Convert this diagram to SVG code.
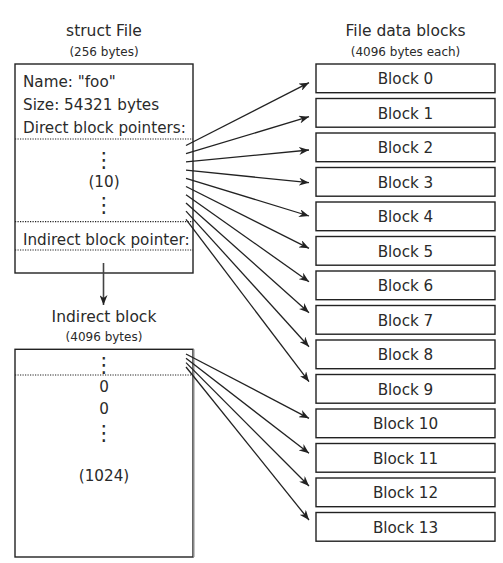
<svg xmlns="http://www.w3.org/2000/svg" width="503" height="563" viewBox="0 0 503 563">
<style>
text{font-family:"DejaVu Sans","Liberation Sans",sans-serif;fill:#2a2a2a;}
.t{font-size:15.2px;}
.h{font-size:15.5px;}
.s{font-size:12px;}
.c{text-anchor:middle;}
.box{fill:#fff;stroke:#222;stroke-width:1.4;}
.dot{stroke:#222;stroke-width:1.2;stroke-dasharray:1.2 1.3;fill:none;}
.ar{stroke:#222;stroke-width:1.3;fill:none;marker-end:url(#ah);}
.vd{font-size:21px;}
</style>
<defs>
<marker id="ah" viewBox="0 0 10 8" refX="10" refY="4" markerWidth="10" markerHeight="8" markerUnits="userSpaceOnUse" orient="auto">
<path d="M0,0 L10,4 L0,8 L3,4 z" fill="#222"/>
</marker>
</defs>
<g id="struct-file">
<text class="h c" x="104" y="36">struct File</text>
<text class="s c" x="104" y="55.5">(256 bytes)</text>
<rect class="box" x="15" y="64" width="178" height="209"/>
<text class="t" x="23" y="87">Name: "foo"</text>
<text class="t" x="23" y="110">Size: 54321 bytes</text>
<text class="t" x="23" y="132.5">Direct block pointers:</text>
<line class="dot" x1="15" y1="139" x2="193" y2="139"/>
<text class="vd c" x="104" y="167">⋮</text>
<text class="t c" x="104" y="187">(10)</text>
<text class="vd c" x="104" y="212">⋮</text>
<line class="dot" x1="15" y1="221.7" x2="193" y2="221.7"/>
<text class="t" x="23" y="244.5">Indirect block pointer:</text>
<line class="dot" x1="15" y1="250" x2="193" y2="250"/>
</g>
<g id="indirect-block">
<text class="h c" x="104" y="321.5">Indirect block</text>
<text class="s c" x="104" y="341">(4096 bytes)</text>
<rect class="box" x="15" y="349.3" width="178" height="207.7"/>
<line x1="193.7" y1="349.3" x2="193.7" y2="557" stroke="#888" stroke-width="1.6"/>
<text class="vd c" x="104" y="372">⋮</text>
<line class="dot" x1="15" y1="375" x2="193" y2="375"/>
<text class="t c" x="104" y="391.5">0</text>
<text class="t c" x="104" y="413.5">0</text>
<text class="vd c" x="104" y="440">⋮</text>
<text class="t c" x="104" y="480.5">(1024)</text>
</g>
<g id="data-blocks">
<text class="h c" x="405.5" y="36">File data blocks</text>
<text class="s c" x="405.5" y="55.5">(4096 bytes each)</text>
<g id="block0"><rect class="box" x="316" y="64" width="179" height="28.7"/><text class="t c" x="405.5" y="84">Block 0</text></g>
<g id="block1"><rect class="box" x="316" y="98.5" width="179" height="28.7"/><text class="t c" x="405.5" y="118.5">Block 1</text></g>
<g id="block2"><rect class="box" x="316" y="133" width="179" height="28.7"/><text class="t c" x="405.5" y="153">Block 2</text></g>
<g id="block3"><rect class="box" x="316" y="167.5" width="179" height="28.7"/><text class="t c" x="405.5" y="187.5">Block 3</text></g>
<g id="block4"><rect class="box" x="316" y="202" width="179" height="28.7"/><text class="t c" x="405.5" y="222">Block 4</text></g>
<g id="block5"><rect class="box" x="316" y="236.5" width="179" height="28.7"/><text class="t c" x="405.5" y="256.5">Block 5</text></g>
<g id="block6"><rect class="box" x="316" y="271" width="179" height="28.7"/><text class="t c" x="405.5" y="291">Block 6</text></g>
<g id="block7"><rect class="box" x="316" y="305.5" width="179" height="28.7"/><text class="t c" x="405.5" y="325.5">Block 7</text></g>
<g id="block8"><rect class="box" x="316" y="340" width="179" height="28.7"/><text class="t c" x="405.5" y="360">Block 8</text></g>
<g id="block9"><rect class="box" x="316" y="374.5" width="179" height="28.7"/><text class="t c" x="405.5" y="394.5">Block 9</text></g>
<g id="block10"><rect class="box" x="316" y="409" width="179" height="28.7"/><text class="t c" x="405.5" y="429">Block 10</text></g>
<g id="block11"><rect class="box" x="316" y="443.5" width="179" height="28.7"/><text class="t c" x="405.5" y="463.5">Block 11</text></g>
<g id="block12"><rect class="box" x="316" y="478" width="179" height="28.7"/><text class="t c" x="405.5" y="498">Block 12</text></g>
<g id="block13"><rect class="box" x="316" y="512.5" width="179" height="28.7"/><text class="t c" x="405.5" y="532.5">Block 13</text></g>
</g>
<g id="connectors">
<line x1="103.5" y1="263" x2="103.5" y2="305" stroke="#444" stroke-width="1.6" marker-end="url(#ah)"/>
<line class="ar" x1="186" y1="145.5" x2="309" y2="82.7"/>
<line class="ar" x1="186" y1="153.7" x2="309" y2="116.7"/>
<line class="ar" x1="186" y1="161.9" x2="309" y2="150"/>
<line class="ar" x1="186" y1="170.1" x2="309" y2="182.7"/>
<line class="ar" x1="186" y1="178.3" x2="309" y2="216"/>
<line class="ar" x1="186" y1="186.5" x2="309" y2="248.3"/>
<line class="ar" x1="186" y1="194.7" x2="309" y2="281.7"/>
<line class="ar" x1="186" y1="202.9" x2="309" y2="312.7"/>
<line class="ar" x1="186" y1="211.1" x2="309" y2="346.7"/>
<line class="ar" x1="186" y1="219.3" x2="309" y2="381.7"/>
<line class="ar" x1="186" y1="354" x2="309" y2="418.3"/>
<line class="ar" x1="186" y1="358.3" x2="309" y2="453.3"/>
<line class="ar" x1="186" y1="362.6" x2="309" y2="486"/>
<line class="ar" x1="186" y1="367" x2="309" y2="520"/>
</g>
</svg>
